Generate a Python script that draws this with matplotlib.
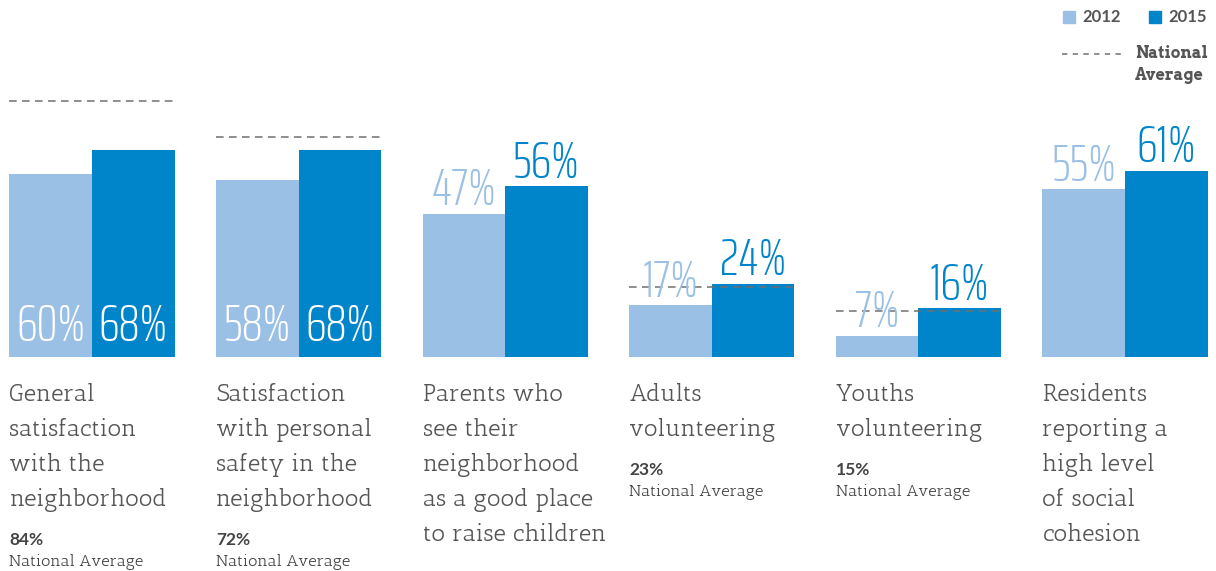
import matplotlib
matplotlib.use("Agg")
import matplotlib.pyplot as plt
import matplotlib.transforms as mtransforms
import numpy as np

# ---- データ ----
labels = ["General\nsatisfaction\nwith the\nneighborhood",
          "Satisfaction\nwith personal\nsafety in the\nneighborhood",
          "Parents who\nsee their\nneighborhood\nas a good place\nto raise children",
          "Adults\nvolunteering",
          "Youths\nvolunteering",
          "Residents\nreporting a\nhigh level\nof social\ncohesion"]
v2012 = [60, 58, 47, 17, 7, 55]
v2015 = [68, 68, 56, 24, 16, 61]
national = [84, 72, None, 23, 15, None]
years = ["2012", "2015"]

C_LIGHT = "#9bc0e6"
C_DARK = "#0084ca"
C_TEXT = "#555555"
C_DASH = "#707070"

SLAB = ["Antic Slab", "DejaVu Serif"]
SLAB_B = ["Arvo", "DejaVu Serif"]
NUM = ["Saira ExtraCondensed", "DejaVu Sans"]
SANS_B = ["Lato", "DejaVu Sans"]

W, H = 1216, 571
fig = plt.figure(figsize=(W/100, H/100), dpi=100)
base = 357  # px from top
ax = fig.add_axes([0, 1-base/H, 1, base/H])
ax.set_axis_off()
ax.set_ylim(0, 117)
ax.set_xlim(-0.445, 5.44)

x = np.arange(len(labels))
bw = 0.4
ax.bar(x-bw/2, v2012, bw, color=C_LIGHT, zorder=1)
ax.bar(x+bw/2, v2015, bw, color=C_DARK, zorder=1)

# 全国平均の破線
for i, n in enumerate(national):
    if n is None:
        continue
    ax.plot([i-bw, i+bw], [n, n], color=C_DASH, lw=1.1, ls=(0, (5, 3.5)), zorder=3)

for i in range(len(labels)):
    for off, v, col in ((-bw/2, v2012[i], C_LIGHT), (bw/2, v2015[i], C_DARK)):
        if i < 2:
            ax.annotate(f"{v}%", (i+off, 0), xytext=(0, 4), textcoords="offset points",
                        ha="center", va="bottom", color="white", family=NUM,
                        fontweight=275, fontsize=38, zorder=4)
        else:
            ax.annotate(f"{v}%", (i+off, v), xytext=(0, -1), textcoords="offset points",
                        ha="center", va="bottom", color=col, family=NUM,
                        fontweight=275, fontsize=38, zorder=4)

# 下のラベル
tr = mtransforms.blended_transform_factory(ax.transData, fig.transFigure)
def fy(px):
    return 1 - px/H

for i, lab in enumerate(labels):
    left = i - bw
    for k, line in enumerate(lab.split("\n")):
        fig.text(left, fy(395 + 35*k), line, transform=tr, ha="left", va="center",
                 family=SLAB, fontsize=17.3, color=C_TEXT)
    if national[i] is not None:
        nl = len(lab.split("\n"))
        y0 = 395 + 35*(nl-1) + 40
        fig.text(left, fy(y0), f"{national[i]}%", transform=tr, ha="left", va="center",
                 family=SANS_B, fontweight="bold", fontsize=12.5, color="#444444")
        fig.text(left, fy(y0+22), "National Average", transform=tr, ha="left", va="center",
                 family=SLAB, fontsize=11.8, color="#444444")

# 凡例
for px, col, yr in ((1063, C_LIGHT, years[0]), (1149, C_DARK, years[1])):
    fig.patches.append(plt.Rectangle((px/W, fy(23)), 12/W, 12/H, transform=fig.transFigure,
                                     color=col))
    fig.text((px+19)/W, fy(17), yr, ha="left", va="center", family=SANS_B,
             fontweight="bold", fontsize=12, color=C_TEXT)
fig.lines.append(plt.Line2D([1062/W, 1122/W], [fy(54), fy(54)], transform=fig.transFigure,
                            color=C_DASH, lw=1.1, ls=(0, (3.5, 3.5))))
fig.text(1135/W, fy(54), "National", ha="left", va="center", family=SLAB_B,
         fontweight="bold", fontsize=11.5, color=C_TEXT)
fig.text(1135/W, fy(76), "Average", ha="left", va="center", family=SLAB_B,
         fontweight="bold", fontsize=11.5, color=C_TEXT)

fig.savefig("out.png", dpi=100)
